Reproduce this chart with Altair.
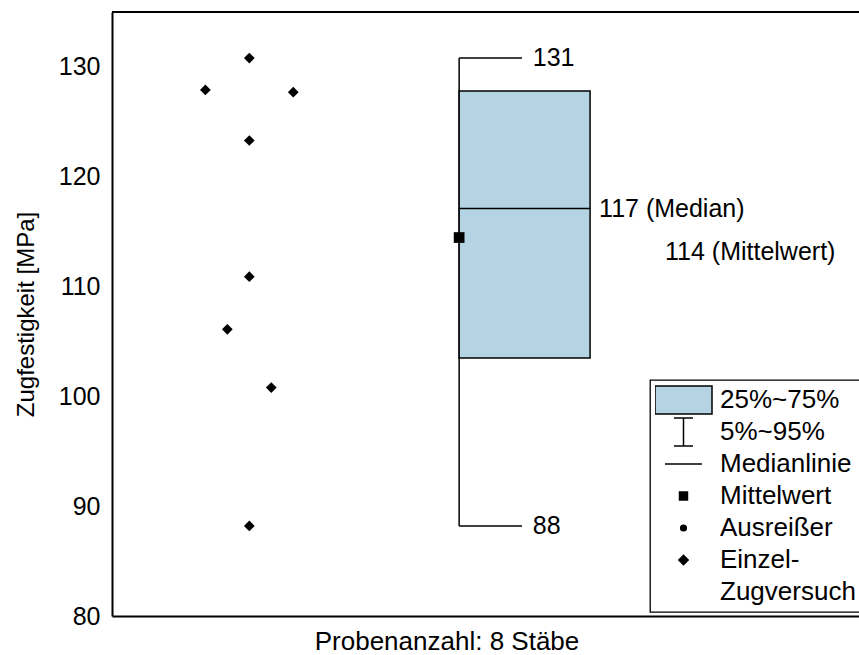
import altair as alt
import pandas as pd

# Tensile strength of the single test bars (MPa) and their sideways spread in the sample column
strength = [130.8, 127.9, 127.7, 123.3, 110.9, 106.1, 100.8, 88.2]
spread = [0, -2, 2, 0, 0, -1, 1, 0]

# Interquartile box (25 % / 75 %)
box_low = [103.5]
box_high = [127.8]

y_ticks = [80, 90, 100, 110, 120, 130]

legend_labels = ["25%~75%", "5%~95%", "Medianlinie", "Mittelwert", "Ausreißer", "Einzel-", "Zugversuch"]

FONT = "Liberation Sans"
BOX_FILL = "#b4d4e4"
FS = 25

# Legend glyphs as SVG paths (unit = half the symbol size)
legend_shapes = [
    "M-1,-0.491H1V0.491H-1Z",
    "M-0.333,-0.491H0.333M0,-0.491V0.491M-0.333,0.491H0.333",
    "M-0.649,0H0.649",
    "M-0.14,-0.14H0.14V0.14H-0.14Z",
    "M-0.1,0A0.1,0.1,0,1,0,0.1,0A0.1,0.1,0,1,0,-0.1,0Z",
    "M-0.165,0L0,-0.165L0.165,0L0,0.165Z",
    "M0,0",
]
legend_fills = [BOX_FILL, "transparent", "transparent", "black", "black", "black", "transparent"]

# Horizontal layout in x-scale units
X_MAX = 34
Y_MIN, Y_MAX = 80, 135
SAMPLE_X = 6.25
BOX_LEFT, BOX_RIGHT = 15.8, 21.76
CAP_RIGHT = 18.66
END_LABEL_X = 19.15
MEDIAN_LABEL_X = 22.17
MEAN_LABEL_X = 25.17

points = pd.DataFrame({"strength": strength, "column": [SAMPLE_X + s for s in spread]})
box = pd.DataFrame({"q1": box_low, "q3": box_high})
legend_df = pd.DataFrame({"entry": legend_labels})

x_scale = alt.Scale(domain=[0, X_MAX], nice=False, zero=False)
y_scale = alt.Scale(domain=[Y_MIN, Y_MAX], nice=False, zero=False)

x_axis = alt.Axis(title="Probenanzahl: 8 Stäbe")
y_axis = alt.Axis(title="Zugfestigkeit [MPa]", values=y_ticks)


def xd(v):
    return alt.XDatum(v, type="quantitative", scale=x_scale, axis=x_axis)


def yq(field):
    return alt.Y(field, type="quantitative", scale=y_scale, axis=y_axis)


base = alt.Chart(points)

whisker = base.mark_rule(color="black", strokeWidth=1.5).encode(
    x=xd(BOX_LEFT), y=yq("min(strength)"), y2=alt.Y2("max(strength)")
)
cap_top = base.mark_rule(color="black", strokeWidth=1.5).encode(
    x=xd(BOX_LEFT), x2=alt.X2Datum(CAP_RIGHT), y=yq("max(strength)")
)
cap_bottom = base.mark_rule(color="black", strokeWidth=1.5).encode(
    x=xd(BOX_LEFT), x2=alt.X2Datum(CAP_RIGHT), y=yq("min(strength)")
)
iqr_box = alt.Chart(box).mark_rect(fill=BOX_FILL, stroke="black", strokeWidth=1.5).encode(
    x=xd(BOX_LEFT), x2=alt.X2Datum(BOX_RIGHT), y=yq("q1"), y2=alt.Y2("q3")
)
median_line = base.mark_rule(color="black", strokeWidth=1.5).encode(
    x=xd(BOX_LEFT), x2=alt.X2Datum(BOX_RIGHT), y=yq("median(strength)")
)
mean_mark = base.mark_point(shape="square", filled=True, color="black", size=115, opacity=1).encode(
    x=xd(BOX_LEFT), y=yq("mean(strength)")
)
samples = base.mark_point(shape="diamond", filled=True, color="black", size=115, opacity=1).encode(
    x=alt.X("column", type="quantitative", scale=x_scale, axis=x_axis),
    y=yq("strength"),
)

text_style = dict(align="left", baseline="middle", fontSize=FS, font=FONT, color="black")


def stat_label(op, name, suffix, x, dy=0):
    """Text showing a summary statistic of the samples, placed at that statistic."""
    return base.transform_aggregate(**{name: f"{op}(strength)"}).transform_calculate(
        **{name + "_text": f"format(datum.{name}, '.0f') + '{suffix}'"}
    ).mark_text(dy=dy, **text_style).encode(
        x=xd(x), y=yq(name), text=alt.Text(name + "_text", type="nominal")
    )


top_label = stat_label("max", "s_max", "", END_LABEL_X)
bottom_label = stat_label("min", "s_min", "", END_LABEL_X)
median_label = stat_label("median", "s_median", " (Median)", MEDIAN_LABEL_X)
mean_label = stat_label("mean", "s_mean", " (Mittelwert)", MEAN_LABEL_X, dy=14)

# upper frame line of the plot area
frame_top = alt.Chart(box).mark_rule(color="black", strokeWidth=2).encode(
    y=alt.YDatum(Y_MAX, type="quantitative", scale=y_scale, axis=y_axis)
)

legend = alt.Legend(
    title=None,
    orient="none",
    legendX=538,
    legendY=368,
    padding=5,
    strokeColor="black",
    fillColor="white",
    symbolSize=3249,
    symbolStrokeWidth=1.5,
    symbolFillColor="black",
    symbolOpacity=1,
    symbolOffset=-1,
    labelOffset=7,
    labelFont=FONT,
    labelFontSize=26,
    labelColor="black",
    labelLimit=400,
    clipHeight=30,
    rowPadding=2,
)

# carrier of the legend; its points sit below the axis range and are clipped away
legend_layer = alt.Chart(legend_df).mark_point(
    clip=True, filled=True, stroke="black", strokeWidth=1.5, opacity=1
).encode(
    y=alt.YDatum(60, type="quantitative", scale=y_scale, axis=y_axis),
    shape=alt.Shape("entry:N", scale=alt.Scale(domain=legend_labels, range=legend_shapes), legend=legend),
    fill=alt.Fill("entry:N", scale=alt.Scale(domain=legend_labels, range=legend_fills), legend=legend),
)

chart = alt.layer(
    whisker, cap_top, cap_bottom, iqr_box, median_line, mean_mark, samples,
    top_label, bottom_label, median_label, mean_label, frame_top, legend_layer,
).properties(
    width=747,
    height=604,
    autosize=alt.AutoSizeParams(type="none"),
    padding={"left": 112, "top": 12, "right": 0, "bottom": 39},
).configure(
    font=FONT,
).configure_view(
    stroke="transparent",
).configure_legend(
    strokeWidth=1.3,
).configure_axisX(
    domain=True, domainColor="black", domainWidth=2,
    ticks=False, labels=False, grid=False,
    titleFont=FONT, titleFontSize=26, titleFontWeight="normal", titleColor="black",
    titleX=334.5, titleY=33, titleBaseline="alphabetic", titleAlign="center",
).configure_axisY(
    domain=True, domainColor="black", domainWidth=2,
    ticks=False, grid=False,
    labelFont=FONT, labelFontSize=FS, labelColor="black", labelPadding=12,
    titleFont=FONT, titleFontSize=24, titleFontWeight="normal", titleColor="black",
    titleX=-79, titleY=302, titleBaseline="alphabetic", titleAlign="center", titleAngle=270,
)

chart.save("out.html", embed_options={"renderer": "svg", "actions": False})
